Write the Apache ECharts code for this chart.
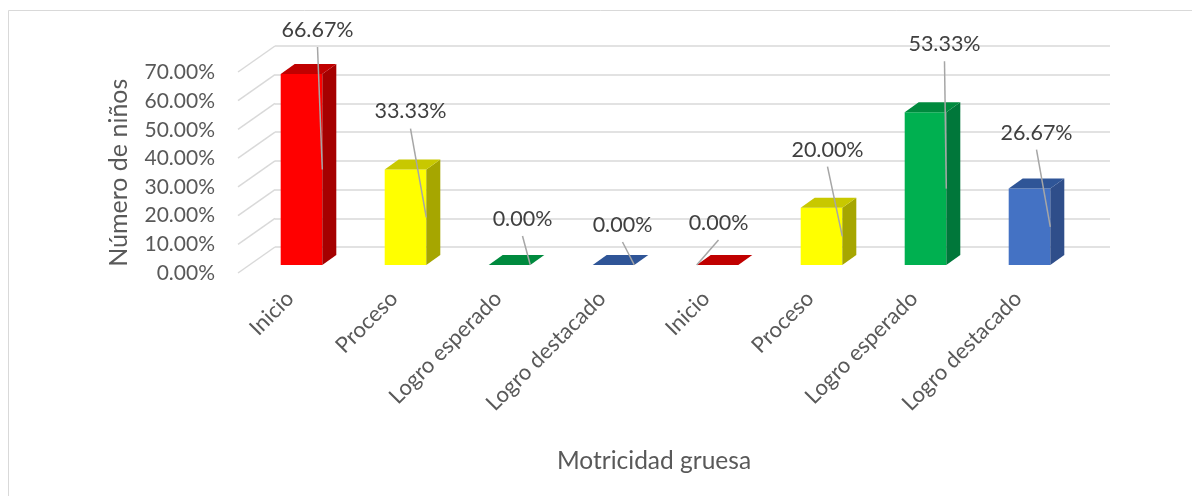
<!DOCTYPE html>
<html>
<head>
    <meta charset="utf-8">
    <title>Motricidad gruesa</title>
    <script src="https://cdn.jsdelivr.net/npm/echarts@6/dist/echarts.min.js"></script>
</head>
<body style="margin:0;background:#fff;">
    <div id="main" style="width:1192px;height:496px;"></div>
    <script type="text/javascript">
        // datos
        var categorias = ['Inicio', 'Proceso', 'Logro esperado', 'Logro destacado',
                          'Inicio', 'Proceso', 'Logro esperado', 'Logro destacado'];
        var porcentajes = [0.6667, 0.3333, 0, 0, 0, 0.2, 0.5333, 0.2667];
        var ticks = [0, 0.1, 0.2, 0.3, 0.4, 0.5, 0.6, 0.7];

        // colores por nivel (frente, lado, tapa)
        var colFrente = ['#ff0000', '#ffff00', '#00b050', '#4472c4'];
        var colLado   = ['#a50000', '#a6a600', '#00773a', '#2f4e8a'];
        var colTapa   = ['#c00000', '#c8c800', '#008a3e', '#2f5597'];

        // desplazamiento de etiquetas respecto al centro/tapa de la barra (px)
        var etiquetaMov = [[16, -44], [5, -58], [13, -46], [9, -40], [1, -42], [6, -58], [19, -68], [7, -56]];

        var DX = 14, DY = -10;       // profundidad de la barra
        var PX = -37, PY = 26;       // diagonal de la pared al frente
        var fuente = 'Lato';

        var myChart = echarts.init(document.getElementById('main'));

        function fmt(v) { return (v * 100).toFixed(2) + '%'; }

        function barra(params, api) {
            var i = api.value(0), v = api.value(1);
            var base = api.coord([i, 0]);
            var tope = api.coord([i, v]);
            var bw = api.size([1, 0])[0] * 0.4;
            var l = base[0] - bw / 2, r = base[0] + bw / 2;
            var k = i % 4;
            var hijos = [];
            if (base[1] - tope[1] > 0) {
                hijos.push({ type: 'rect', shape: { x: l, y: tope[1], width: bw, height: base[1] - tope[1] },
                    style: { fill: colFrente[k] } });
                hijos.push({ type: 'polygon', shape: { points: [[r, tope[1]], [r + DX, tope[1] + DY], [r + DX, base[1] + DY], [r, base[1]]] },
                    style: { fill: colLado[k] } });
            }
            hijos.push({ type: 'polygon', shape: { points: [[l, tope[1]], [l + DX, tope[1] + DY], [r + DX, tope[1] + DY], [r, tope[1]]] },
                style: { fill: colTapa[k] } });

            // etiqueta y línea guía
            var m = etiquetaMov[i];
            var lx = base[0] + m[0], ly = tope[1] + m[1];
            var fin = (lx - base[0] < 2) ? [l, base[1]] : [r, (tope[1] + base[1]) / 2];
            hijos.push({ type: 'line', shape: { x1: lx, y1: ly + 17, x2: fin[0], y2: fin[1] },
                style: { stroke: '#a6a6a6', lineWidth: 1.5 } });
            hijos.push({ type: 'text', x: lx, y: ly,
                style: { text: fmt(v), fill: '#404040', font: '21.5px ' + fuente, align: 'center', verticalAlign: 'middle' } });
            return { type: 'group', children: hijos };
        }

        function diagonal(params, api) {
            var p = api.coord([0, api.value(0)]);
            return { type: 'line', shape: { x1: p[0], y1: p[1], x2: p[0] + PX, y2: p[1] + PY },
                style: { stroke: '#d9d9d9', lineWidth: 1.5 } };
        }

        option = {
            animation: false,
            backgroundColor: '#ffffff',
            textStyle: { fontFamily: fuente },
            graphic: [{
                type: 'rect', shape: { x: 8.5, y: 10.5, width: 1200, height: 500 },
                style: { fill: 'none', stroke: '#d9d9d9', lineWidth: 1 }, silent: true
            }],
            grid: [
                { left: 249.5, width: 832, top: 64.5, height: 200.5 },   // plano de barras
                { left: 275, width: 835, top: 46, height: 201 },         // pared del fondo
                { left: 238, width: 832, top: 72.5, height: 200.5 }      // plano frontal
            ],
            xAxis: [
                { gridIndex: 0, type: 'category', data: categorias, show: false },
                { gridIndex: 1, type: 'value', min: 0, max: 1, show: false },
                { gridIndex: 2, type: 'category', data: categorias,
                  axisLine: { show: false }, axisTick: { show: false },
                  axisLabel: { rotate: 45, margin: 22, color: '#595959', fontSize: 22, fontFamily: fuente, interval: 0 },
                  name: 'Motricidad gruesa', nameLocation: 'middle', nameGap: 176,
                  nameTextStyle: { color: '#595959', fontSize: 24.5, fontFamily: fuente } }
            ],
            yAxis: [
                { gridIndex: 0, type: 'value', min: 0, max: 0.7, interval: 0.1, show: false },
                { gridIndex: 1, type: 'value', min: 0, max: 0.7, interval: 0.1,
                  axisLine: { show: false }, axisTick: { show: false }, axisLabel: { show: false },
                  splitLine: { lineStyle: { color: '#d9d9d9', width: 1.5 } } },
                { gridIndex: 2, type: 'value', min: 0, max: 0.7, interval: 0.1,
                  axisLine: { show: false }, axisTick: { show: false }, splitLine: { show: false },
                  axisLabel: { margin: 23, color: '#595959', fontSize: 21, fontFamily: fuente, formatter: fmt },
                  name: 'Número de niños', nameLocation: 'middle', nameGap: 107,
                  nameTextStyle: { color: '#595959', fontSize: 25, fontFamily: fuente } }
            ],
            series: [
                { type: 'custom', xAxisIndex: 1, yAxisIndex: 1, renderItem: diagonal,
                  data: ticks.map(function (t) { return [t]; }), encode: { y: 0 } },
                { type: 'custom', xAxisIndex: 0, yAxisIndex: 0, renderItem: barra,
                  data: porcentajes.map(function (v, i) { return [i, v]; }), encode: { x: 0, y: 1 } }
            ]
        };

        myChart.setOption(option);
    </script>
</body>
</html>
